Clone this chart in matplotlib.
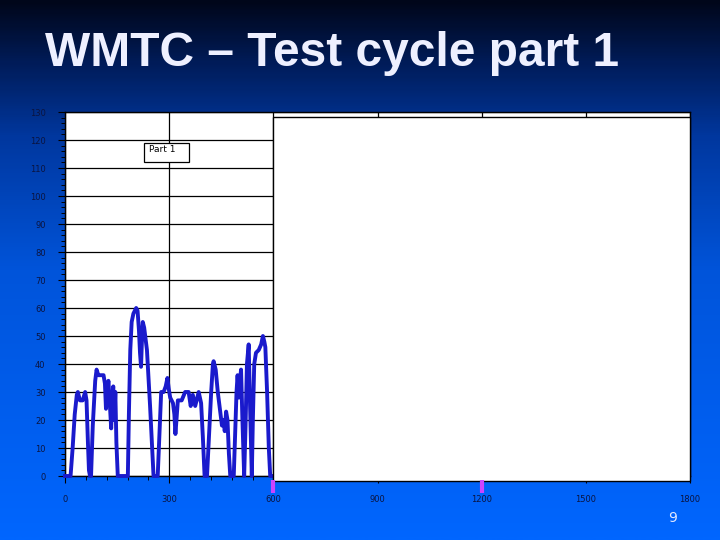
import numpy as np
import matplotlib.pyplot as plt
from matplotlib.colors import LinearSegmentedColormap
from matplotlib.patches import Rectangle
from matplotlib.ticker import MultipleLocator

# WMTC part 1 speed trace (s, km/h)
time_s = [0, 16, 22, 28, 34, 37, 43, 51, 58, 62, 66, 69, 72, 75, 80, 87, 91, 96, 101,
          111, 115, 118, 122, 125, 129, 133, 136, 139, 142, 145, 148, 152, 181, 184, 188,
          192, 197, 205, 209, 213, 216, 219, 222, 224, 228, 236, 245, 255, 267, 272, 277,
          284, 290, 295, 299, 303, 311, 315, 318, 321, 325, 336, 346, 356, 362, 368, 375,
          385, 392, 397, 402, 409, 415, 421, 426, 428, 434, 440, 445, 452, 457, 460, 464,
          468, 472, 476, 486, 490, 494, 497, 501, 504, 507, 511, 516, 520, 524, 529, 533,
          538, 541, 545, 550, 558, 565, 570, 574, 577, 582, 587, 591, 600]
speed_kmh = [0, 0, 10, 22, 29, 30, 27, 27, 30, 27, 12, 2, 0, 0, 18, 34, 38, 36, 36,
             36, 33, 24, 30, 34, 26, 17, 28, 32, 20, 30, 12, 0, 0, 22, 45,
             55, 58, 60, 59, 52, 44, 39, 50, 55, 53, 45, 25, 0, 0, 15, 30,
             30, 32, 35, 31, 28, 26, 22, 15, 20, 27, 27, 30, 30, 25, 29, 25,
             30, 26, 14, 0, 0, 15, 30, 40, 41, 38, 30, 25, 18, 20, 16, 23,
             20, 8, 0, 0, 15, 30, 36, 28, 34, 38, 20, 0, 18, 40, 47, 25,
             0, 20, 40, 44, 45, 47, 50, 48, 46, 30, 10, 0, 0]

y_ticks = list(range(0, 131, 10))
x_ticks = [0, 300, 600, 900, 1200, 1500, 1800]
part_marks = [600, 1200]

fig = plt.figure(figsize=(7.2, 5.4), dpi=100)

# slide background gradient
bg = fig.add_axes([0, 0, 1, 1], zorder=-10)
bg.axis('off')
grad = np.linspace(0, 1, 300).reshape(-1, 1)
slide_cmap = LinearSegmentedColormap.from_list(
    'slide', [(0, '#00061a'), (0.12, '#001d5c'), (0.25, '#00379e'),
              (0.5, '#0054da'), (1, '#0066ff')])
bg.imshow(grad, aspect='auto', cmap=slide_cmap, extent=[0, 1, 0, 1], origin='upper')
bg.set_xlim(0, 1)
bg.set_ylim(0, 1)

fig.text(45 / 720, 1 - 66 / 540, 'WMTC \u2013 Test cycle part 1',
         family=['Liberation Sans Narrow', 'Liberation Sans', 'DejaVu Sans'],
         fontweight='bold', fontsize=34.5, color='#eef0ff', va='baseline', ha='left')

ax = fig.add_axes([65 / 720, 1 - 476 / 540, 625 / 720, 364 / 540])
ax.set_facecolor('white')
ax.set_xlim(0, 1800)
ax.set_ylim(0, 130)
ax.set_xticks(x_ticks)
ax.set_yticks(y_ticks)
ax.xaxis.set_minor_locator(MultipleLocator(60))
ax.yaxis.set_minor_locator(MultipleLocator(2))
ax.tick_params(which='major', direction='out', length=5, width=0.8, color='black',
               labelsize=6, labelcolor='#0b1440', pad=9)
ax.tick_params(which='minor', direction='out', length=3, width=0.7, color='black')
ax.grid(which='major', color='black', linewidth=0.9)
ax.set_axisbelow(True)
for s in ax.spines.values():
    s.set_color('black')
    s.set_linewidth(1.0)

ax.plot(time_s, speed_kmh, color='#1a1acc', linewidth=2.8, zorder=3, clip_on=False)

# white cover over parts 2 and 3
ax.add_patch(Rectangle((600, -1.8), 1200, 129.9, facecolor='white', edgecolor='black',
                       linewidth=1.0, zorder=4, clip_on=False))

# "Part 1" label box
ax.add_patch(Rectangle((228, 112), 129, 7, facecolor='white', edgecolor='black',
                       linewidth=0.9, zorder=5))
ax.text(242, 116.6, 'Part 1', fontsize=6.5, color='black', va='center', ha='left',
        zorder=6)

# part boundary markers
for xm in part_marks:
    ax.plot([xm, xm], [-1.5, -6], color='#cc44ff', linewidth=3, zorder=6,
            clip_on=False, solid_capstyle='butt')

fig.text(673 / 720, 1 - 518 / 540, '9', color='#e0e8ff', fontsize=10,
         ha='center', va='center')

fig.savefig('out.png', dpi=100)
